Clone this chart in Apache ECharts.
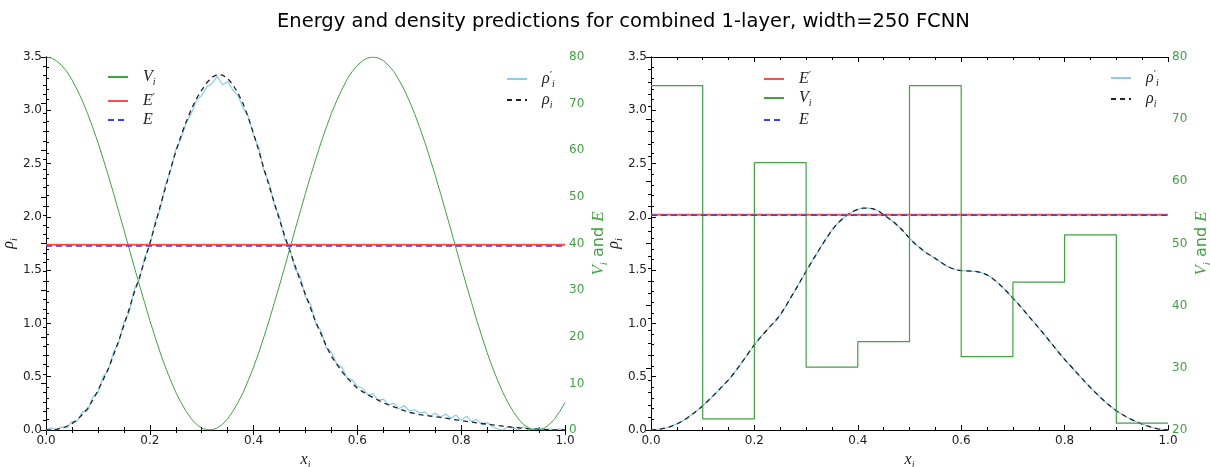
<!DOCTYPE html>
<html>
<head>
<meta charset="utf-8">
<script src="https://cdn.jsdelivr.net/npm/echarts@6/dist/echarts.min.js"></script>
<style>
  html, body { margin: 0; padding: 0; background: #fff; }
  #chart { width: 1210px; height: 467px; }
</style>
</head>
<body>
<div id="chart"></div>
<script>
const xFine = [0, 0.01, 0.02, 0.03, 0.04, 0.05, 0.06, 0.07, 0.08, 0.09,
  0.1, 0.11, 0.12, 0.13, 0.14, 0.15, 0.16, 0.17, 0.18, 0.19,
  0.2, 0.21, 0.22, 0.23, 0.24, 0.25, 0.26, 0.27, 0.28, 0.29,
  0.3, 0.31, 0.32, 0.33, 0.34, 0.35, 0.36, 0.37, 0.38, 0.39,
  0.4, 0.41, 0.42, 0.43, 0.44, 0.45, 0.46, 0.47, 0.48, 0.49,
  0.5, 0.51, 0.52, 0.53, 0.54, 0.55, 0.56, 0.57, 0.58, 0.59,
  0.6, 0.61, 0.62, 0.63, 0.64, 0.65, 0.66, 0.67, 0.68, 0.69,
  0.7, 0.71, 0.72, 0.73, 0.74, 0.75, 0.76, 0.77, 0.78, 0.79,
  0.8, 0.81, 0.82, 0.83, 0.84, 0.85, 0.86, 0.87, 0.88, 0.89,
  0.9, 0.91, 0.92, 0.93, 0.94, 0.95, 0.96, 0.97, 0.98, 0.99, 1.0]

// left panel: potential V_i (right axis)
const vLeft = [80, 79.8, 79.2, 78.2, 76.9, 75.1, 73.0, 70.6, 67.9, 64.9,
  61.7, 58.2, 54.6, 50.8, 46.9, 43.0, 39.0, 35.0, 31.1, 27.3,
  23.5, 20.0, 16.6, 13.5, 10.7, 8.1, 5.9, 4.0, 2.4, 1.2,
  0.4, 0.05, 0.05, 0.45, 1.2, 2.4, 4.0, 5.9, 8.1, 10.7,
  13.5, 16.6, 20.0, 23.5, 27.3, 31.1, 35.0, 39.0, 43.0, 46.9,
  50.8, 54.6, 58.2, 61.7, 64.9, 67.9, 70.6, 73.0, 75.2, 76.9,
  78.2, 79.2, 79.8, 80.0, 79.8, 79.2, 78.2, 76.9, 75.1, 73.0,
  70.6, 67.9, 64.9, 61.7, 58.2, 54.6, 50.8, 46.9, 43.0, 39.0,
  35.0, 31.1, 27.3, 23.5, 20.0, 16.6, 13.5, 10.7, 8.1, 5.9,
  4.0, 2.4, 1.2, 0.45, 0.05, 0.05, 0.4, 1.2, 2.4, 4.0, 5.9]

// left panel: exact density rho_i
const rhoLeft = [0, 0.002, 0.006, 0.015, 0.035, 0.06, 0.095, 0.145, 0.20, 0.28,
  0.37, 0.47, 0.575, 0.70, 0.835, 0.98, 1.13, 1.29, 1.43, 1.59,
  1.75, 1.92, 2.10, 2.27, 2.45, 2.61, 2.76, 2.89, 3.01, 3.11,
  3.19, 3.26, 3.31, 3.335, 3.33, 3.30, 3.24, 3.16, 3.06, 2.93,
  2.78, 2.62, 2.45, 2.29, 2.13, 1.97, 1.82, 1.68, 1.54, 1.40,
  1.27, 1.14, 1.01, 0.90, 0.79, 0.69, 0.62, 0.55, 0.49, 0.44,
  0.39, 0.36, 0.33, 0.305, 0.28, 0.255, 0.235, 0.218, 0.20, 0.182,
  0.165, 0.155, 0.145, 0.137, 0.131, 0.125, 0.118, 0.111, 0.103, 0.096,
  0.088, 0.081, 0.074, 0.067, 0.061, 0.055, 0.049, 0.043, 0.037, 0.031,
  0.025, 0.021, 0.016, 0.012, 0.009, 0.007, 0.005, 0.003, 0.002, 0.001, 0]

// left panel: noisy predicted density rho'_i
const rhoPredLeft = [0.00, 0.02, 0.00, 0.03, 0.02, 0.08, 0.08, 0.17, 0.18, 0.31,
  0.35, 0.50, 0.56, 0.73, 0.82, 1.01, 1.10, 1.32, 1.41, 1.62,
  1.73, 1.95, 2.07, 2.30, 2.43, 2.63, 2.73, 2.88, 2.97, 3.09,
  3.14, 3.22, 3.25, 3.32, 3.24, 3.27, 3.19, 3.14, 3.02, 2.94,
  2.76, 2.65, 2.43, 2.32, 2.11, 2.00, 1.79, 1.70, 1.51, 1.44,
  1.25, 1.18, 0.99, 0.93, 0.77, 0.73, 0.62, 0.59, 0.49, 0.47,
  0.41, 0.39, 0.33, 0.34, 0.28, 0.29, 0.24, 0.25, 0.20, 0.23,
  0.18, 0.19, 0.16, 0.17, 0.13, 0.16, 0.12, 0.15, 0.11, 0.14,
  0.09, 0.13, 0.08, 0.10, 0.05, 0.07, 0.03, 0.01, 0.00, 0.03,
  0.02, 0.00, 0.03, 0.00, 0.01, 0.02, 0.00, 0.01, 0.00, 0.01, 0.00]

// right panel densities
const rhoRight = [0, 0.003, 0.010, 0.021, 0.037, 0.056, 0.082, 0.113, 0.148, 0.186,
  0.227, 0.272, 0.32, 0.37, 0.42, 0.47, 0.53, 0.595, 0.662, 0.732,
  0.80, 0.86, 0.915, 0.97, 1.02, 1.08, 1.155, 1.24, 1.32, 1.405,
  1.49, 1.57, 1.65, 1.73, 1.805, 1.876, 1.935, 1.98, 2.02, 2.05,
  2.07, 2.082, 2.083, 2.075, 2.055, 2.02, 1.985, 1.95, 1.905, 1.855,
  1.80, 1.75, 1.71, 1.67, 1.64, 1.61, 1.575, 1.545, 1.52, 1.503,
  1.495, 1.493, 1.491, 1.487, 1.475, 1.456, 1.425, 1.385, 1.34, 1.29,
  1.238, 1.185, 1.13, 1.07, 1.015, 0.958, 0.90, 0.84, 0.78, 0.72,
  0.662, 0.61, 0.556, 0.503, 0.45, 0.398, 0.35, 0.303, 0.258, 0.218,
  0.18, 0.15, 0.122, 0.097, 0.075, 0.056, 0.038, 0.022, 0.011, 0.004, 0]
const rhoPredRight = [0, 0.004, 0.011, 0.021, 0.037, 0.057, 0.082, 0.113, 0.148, 0.187,
  0.228, 0.272, 0.32, 0.37, 0.421, 0.47, 0.53, 0.595, 0.662, 0.732,
  0.80, 0.86, 0.915, 0.97, 1.02, 1.08, 1.155, 1.24, 1.32, 1.405,
  1.49, 1.57, 1.65, 1.73, 1.805, 1.875, 1.935, 1.98, 2.02, 2.05,
  2.07, 2.081, 2.083, 2.075, 2.055, 2.02, 1.985, 1.95, 1.905, 1.855,
  1.80, 1.75, 1.71, 1.67, 1.64, 1.61, 1.575, 1.545, 1.52, 1.504,
  1.495, 1.493, 1.491, 1.487, 1.475, 1.456, 1.425, 1.385, 1.34, 1.29,
  1.238, 1.185, 1.13, 1.07, 1.015, 0.958, 0.90, 0.84, 0.78, 0.72,
  0.662, 0.61, 0.556, 0.503, 0.45, 0.398, 0.35, 0.303, 0.258, 0.218,
  0.18, 0.15, 0.122, 0.097, 0.075, 0.056, 0.039, 0.023, 0.012, 0.005, 0.001]

// right panel: piecewise constant potential
const xStep = [0, 0.1, 0.2, 0.3, 0.4, 0.5, 0.6, 0.7, 0.8, 0.9, 1.0]
const vRight = [75.4, 21.8, 63.0, 30.1, 34.2, 75.4, 31.8, 43.8, 51.4, 21.1, 21.1]

// energies [left, right]
const energyPred = [39.75, 54.62]
const energyTrue = [39.45, 54.55]

// ---- chart ----
const chart = echarts.init(document.getElementById('chart'), null, { renderer: 'canvas' })

const pts = (xs, ys) => xs.map((x, i) => [x, ys[i]])
const flat = (v) => [[0, v], [1, v]]

const green = '#43a043'
const serif = 'Liberation Serif'
const mathRich = {
  m: { fontFamily: serif, fontStyle: 'italic', fontSize: 16, color: '#222', lineHeight: 20, verticalAlign: 'middle' },
  s: { fontFamily: serif, fontStyle: 'italic', fontSize: 10, color: '#222', lineHeight: 20, verticalAlign: 'bottom' },
  p: { fontFamily: 'DejaVu Sans', fontSize: 10, color: '#222', lineHeight: 20, verticalAlign: 'top', padding: [2, 0, 0, 0] },
  gm: { fontFamily: serif, fontStyle: 'italic', fontSize: 17, color: green, lineHeight: 22, verticalAlign: 'middle' },
  gs: { fontFamily: serif, fontStyle: 'italic', fontSize: 11, color: green, lineHeight: 22, verticalAlign: 'bottom' },
  gt: { fontFamily: 'DejaVu Sans', fontSize: 16, color: green, lineHeight: 22, verticalAlign: 'middle' }
}

const legendText = {
  V_a: '{m|V}{s|i}', Ep_a: '{m|E}{p|′}', E_a: '{m|E}',
  rp_a: '{m|ρ}{p|′}{s|i}', r_a: '{m|ρ}{s|i}',
  V_b: '{m|V}{s|i}', Ep_b: '{m|E}{p|′}', E_b: '{m|E}',
  rp_b: '{m|ρ}{p|′}{s|i}', r_b: '{m|ρ}{s|i}'
}

const tickLabel = { fontFamily: 'DejaVu Sans', fontSize: 12, color: '#222' }
const axisLine = { show: true, lineStyle: { color: '#000', width: 1 } }

function makeX (grid, top) {
  return {
    type: 'value', gridIndex: grid, position: top ? 'top' : 'bottom',
    min: 0, max: 1, interval: 0.2,
    axisLine: axisLine,
    axisTick: { inside: true, length: 5, lineStyle: { color: '#000' } },
    minorTick: { show: true, splitNumber: 4, length: 3, lineStyle: { color: '#000' } },
    splitLine: { show: false },
    axisLabel: top ? { show: false } : Object.assign({ margin: 5, formatter: v => v.toFixed(1) }, tickLabel),
    name: top ? '' : '{m|x}{s|i}',
    nameLocation: 'middle', nameGap: 13,
    nameTextStyle: { rich: mathRich }
  }
}

function makeY (grid, right, min, max, interval) {
  return {
    type: 'value', gridIndex: grid, position: right ? 'right' : 'left',
    min: min, max: max, interval: interval,
    axisLine: axisLine,
    axisTick: { inside: true, length: 5, lineStyle: { color: '#000' } },
    minorTick: { show: true, splitNumber: 5, length: 3, lineStyle: { color: '#000' } },
    splitLine: { show: false },
    axisLabel: right
      ? Object.assign({}, tickLabel, { margin: 4, color: green })
      : Object.assign({ margin: 4, formatter: v => v.toFixed(1) }, tickLabel),
    name: right ? '{gm|V}{gs|i}{gt| and }{gm|E}' : '{m|ρ}{s|i}',
    nameLocation: 'middle', nameRotate: 90,
    nameGap: right ? 23 : 24,
    nameTextStyle: { rich: mathRich }
  }
}

function line (name, xi, yi, data, color, width, dash) {
  return {
    name: name, type: 'line', xAxisIndex: xi, yAxisIndex: yi,
    data: data, symbol: 'none', color: color,
    lineStyle: { color: color, width: width, type: dash || 'solid' },
    emphasis: { disabled: true }
  }
}

// one legend per entry, so every row sits where the reference puts it
function legendRow (name, left, centerY) {
  return {
    data: [name], orient: 'vertical', left: left, top: centerY - 8, padding: 0,
    itemWidth: 20, itemHeight: 16,
    itemStyle: { opacity: 0 },
    formatter: n => legendText[n],
    textStyle: { rich: mathRich, padding: [0, 0, 0, 10] },
    selectedMode: false
  }
}

const option = {
  animation: false,
  backgroundColor: '#fff',
  title: {
    text: 'Energy and density predictions for combined 1-layer, width=250 FCNN',
    left: 272, top: 7,
    textStyle: { fontFamily: 'DejaVu Sans', fontSize: 19.5, fontWeight: 'normal', color: '#000' }
  },
  legend: [
    legendRow('V_a', 107, 77), legendRow('Ep_a', 107, 99), legendRow('E_a', 107, 120),
    legendRow('rp_a', 506, 77), legendRow('r_a', 506, 100),
    legendRow('Ep_b', 763, 77), legendRow('V_b', 763, 98), legendRow('E_b', 763, 120),
    legendRow('rp_b', 1110, 76), legendRow('r_b', 1110, 99)
  ],
  grid: [
    { left: 46, top: 57, width: 519, height: 373, outerBoundsMode: 'none' },
    { left: 651, top: 57, width: 517, height: 373, outerBoundsMode: 'none' }
  ],
  xAxis: [makeX(0, false), makeX(0, true), makeX(1, false), makeX(1, true)],
  yAxis: [
    makeY(0, false, 0, 3.5, 0.5), makeY(0, true, 0, 80, 10),
    makeY(1, false, 0, 3.5, 0.5), makeY(1, true, 20, 80, 10)
  ],
  series: [
    line('rp_a', 0, 0, pts(xFine, rhoPredLeft), '#87ceeb', 1.2),
    line('r_a', 0, 0, pts(xFine, rhoLeft), '#222', 1.3, [5, 4]),
    line('V_a', 0, 1, pts(xFine, vLeft), green, 1),
    line('Ep_a', 0, 1, flat(energyPred[0]), '#ff4d4d', 2),
    line('E_a', 0, 1, flat(energyTrue[0]), '#3b3bff', 1.5, [6, 4]),

    line('rp_b', 2, 2, pts(xFine, rhoPredRight), '#87ceeb', 1.2),
    line('r_b', 2, 2, pts(xFine, rhoRight), '#222', 1.3, [5, 4]),
    Object.assign(line('V_b', 2, 3, pts(xStep, vRight), green, 1.2), { step: 'end' }),
    line('Ep_b', 2, 3, flat(energyPred[1]), '#ff4d4d', 2),
    line('E_b', 2, 3, flat(energyTrue[1]), '#3b3bff', 1.5, [6, 4])
  ]
}

chart.setOption(option)
</script>
</body>
</html>
